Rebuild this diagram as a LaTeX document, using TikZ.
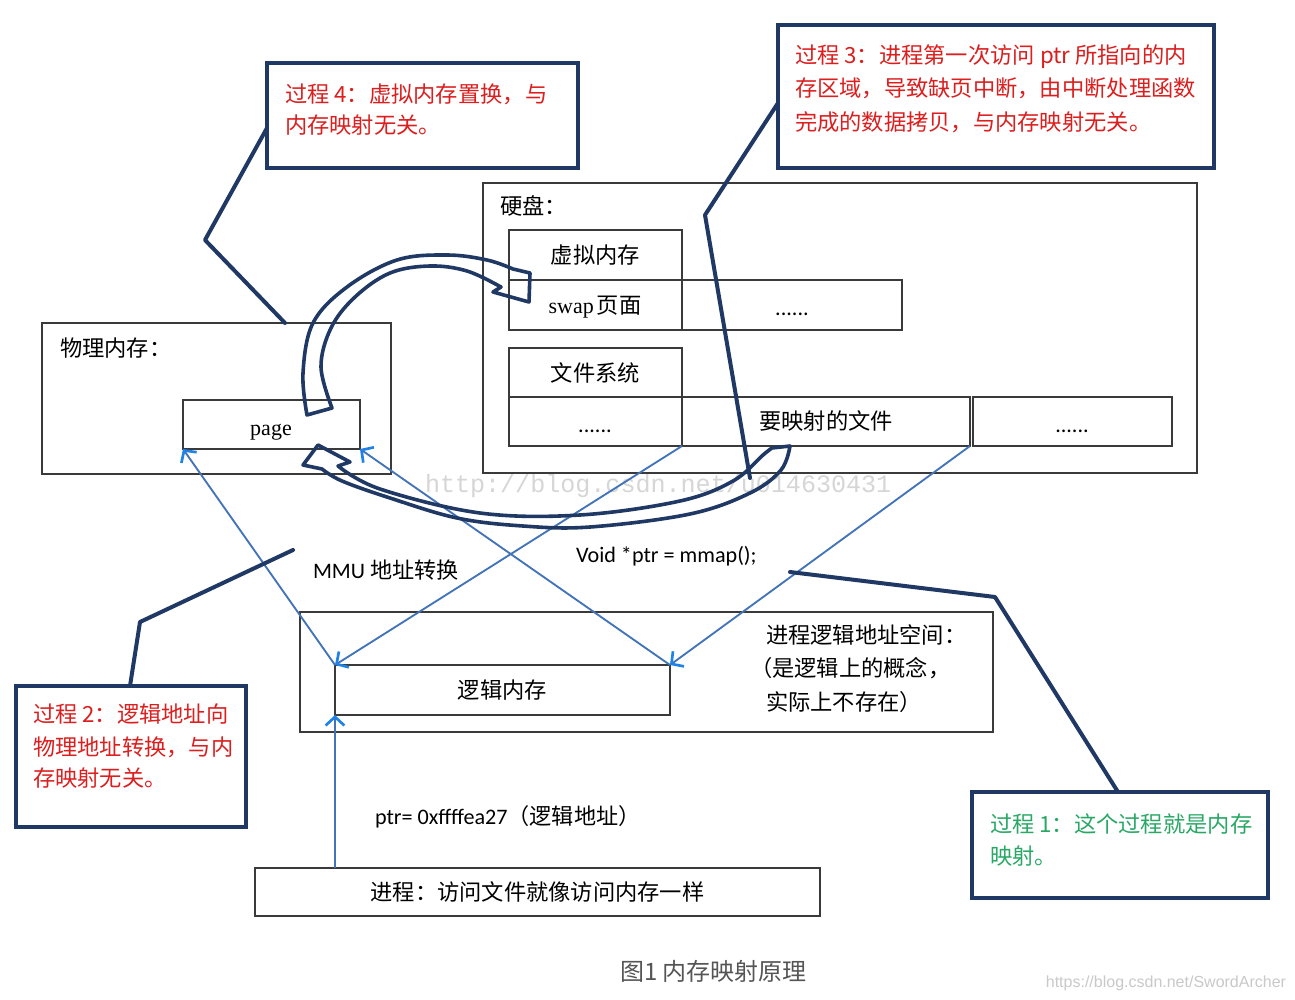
\documentclass[tikz,border=0pt]{standalone}
\usepackage{fontspec}
\setmainfont{Carlito}
\newfontfamily\cjk{Noto Sans CJK SC}
\newfontfamily\lserif{Liberation Serif}
\newfontfamily\lmono{Liberation Mono}
\newfontfamily\lsans{Liberation Sans}
\usetikzlibrary{arrows.meta,calc}
\definecolor{navy}{HTML}{1F3864}
\definecolor{boxgray}{HTML}{3A3A3A}
\definecolor{redtxt}{HTML}{DC1E1E}
\definecolor{greentxt}{HTML}{28A864}
\definecolor{lineblue}{HTML}{4474B8}
\definecolor{tipblue}{HTML}{1E82E6}
\definecolor{wmgray}{HTML}{D6D6D6}
\definecolor{capgray}{HTML}{555555}
\begin{document}
\begin{tikzpicture}[x=0.75pt,y=-0.75pt,
  every node/.style={inner sep=0pt, outer sep=0pt},
  wh/.style 2 args={minimum width=#1*0.75pt, minimum height=#2*0.75pt},
  box/.style={draw=boxgray, line width=0.9pt, anchor=north west},
  callout/.style={draw=navy, line width=3pt, anchor=north west, fill=white},
  cjkf/.style={font=\cjk\fontsize{16.7}{20}\selectfont},
  latf/.style={font=\fontsize{16.6}{20}\selectfont},
  serf/.style={font=\lserif\fontsize{16.5}{20}\selectfont},
  blueline/.style={draw=lineblue, line width=1.4pt,
    -{Straight Barb[length=6.5pt,width=14pt,line width=2pt,color=tipblue]}},
  callline/.style={draw=navy, line width=3pt, line join=round, line cap=round},
  hollow/.style={draw=navy, line width=2.7pt, line join=round}
]
\fill[white] (0,0) rectangle (1295,999);
\useasboundingbox (0,0) rectangle (1295,999);

% watermark
\node[font=\lmono\fontsize{18.8}{20}\selectfont, text=wmgray, anchor=base west] (wm) at (425,492) {http://blog.csdn.net/u014630431};

% physical memory
\node[box, wh={349}{151}] (phys) at (42,323) {};
\node[cjkf, anchor=base west] (physl) at (60,356) {物理内存：};
\node[box, wh={177}{49}] (page) at (183,400) {};
\node[serf, anchor=base] (pagel) at (271,435) {page};

% disk
\node[box, wh={714}{290}] (disk) at (483,183) {};
\node[cjkf, anchor=base west] (diskl) at (500,214) {硬盘：};
\node[box, wh={173}{50}] (vm) at (509,230) {};
\node[cjkf] (vml) at (vm.center) {虚拟内存};
\node[box, wh={173}{50}] (swap) at (509,280) {};
\node[anchor=base] (swapl) at (595,313) {{\lserif\fontsize{16.5}{20}\selectfont swap} {\cjk\fontsize{16.7}{20}\selectfont 页面}};
\node[box, wh={220}{50}] (dotsa) at (682,280) {};
\node[latf, anchor=base] (dotsal) at (792,315) {......};
\node[box, wh={173}{49}] (fs) at (509,348) {};
\node[cjkf] (fsl) at (fs.center) {文件系统};
\node[box, wh={173}{49}] (dotsb) at (509,397) {};
\node[latf, anchor=base] (dotsbl) at (595,432) {......};
\node[box, wh={288}{49}] (file) at (682,397) {};
\node[cjkf] (filel) at (826,421) {要映射的文件};
\node[box, wh={199}{49}] (dotsc) at (973,397) {};
\node[latf, anchor=base] (dotscl) at (1072,432) {......};

% logical address space
\node[box, wh={693}{120}] (space) at (300,612) {};
\node[box, wh={335}{50}] (logic) at (335,665) {};
\node[cjkf] (logicl) at (logic.center) {逻辑内存};
\node[cjkf, anchor=base west] (spacel1) at (766,643) {进程逻辑地址空间：};
\node[cjkf, anchor=base west] (spacel2) at (750,676) {（是逻辑上的概念，};
\node[cjkf, anchor=base west] (spacel3) at (766,710) {实际上不存在）};

% process
\node[box, wh={565}{48}] (proc) at (255,868) {};
\node[cjkf] (procl) at (proc.center) {进程：访问文件就像访问内存一样};

% free labels
\node[latf, anchor=base west] (mmu) at (313,578) {MMU {\cjk 地址转换}};
\node[latf, anchor=base west] (mmap) at (576,562) {Void *ptr = mmap();};
\node[latf, anchor=base west] (ptr) at (375,824) {ptr= 0xffffea27{\cjk （逻辑地址）}};

% blue connectors
\draw[blueline] (file.south west) -- (logic.north west);
\draw[blueline] (file.south east) -- (logic.north east);
\draw[blueline] (logic.north west) -- (page.south west);
\draw[blueline] (logic.north east) -- (page.south east);
\draw[blueline] (logic.south west |- proc.north) -- (logic.south west);

% hollow curved arrow: page -> swap
\draw[hollow] plot[smooth, tension=0.6] coordinates {(307,415) (303,373) (313,323) (347,287) (397,260) (447,255) (487,260) (513,269)}
  -- (530,273) -- (529,302) -- (493,292)
  -- plot[smooth, tension=0.6] coordinates {(501,287) (467,271) (430,266) (390,273) (355,297) (331,328) (321,367) (332,408)} -- cycle;

% hollow curved arrow: file -> page
\draw[hollow] plot[smooth, tension=0.6] coordinates {(790,446) (781,470) (750,493) (690,514) (590,527) (523,526) (457,518) (390,498) (342,481) (322,469)}
  -- (303,465) -- (318,445) -- (350,462)
  -- plot[smooth, tension=0.6] coordinates {(338,466) (380,489) (480,513) (580,515) (680,501) (733,481) (763,455) (772,448)} -- cycle;

% callouts
\node[callout, wh={311}{105}] (c4) at (267,63) {};
\node[cjkf, text=redtxt, anchor=base west] (c4a) at (285,103) {过程 4：虚拟内存置换，与};
\node[cjkf, text=redtxt, anchor=base west] (c4b) at (285,133) {内存映射无关。};

\node[callout, wh={436}{143}] (c3) at (778,25) {};
\node[cjkf, text=redtxt, anchor=base west] (c3a) at (795,64) {过程 3：进程第一次访问 ptr 所指向的内};
\node[cjkf, text=redtxt, anchor=base west] (c3b) at (795,97) {存区域，导致缺页中断，由中断处理函数};
\node[cjkf, text=redtxt, anchor=base west] (c3c) at (795,130) {完成的数据拷贝，与内存映射无关。};

\node[callout, wh={230}{141}] (c2) at (16,686) {};
\node[cjkf, text=redtxt, anchor=base west] (c2a) at (33,722) {过程 2：逻辑地址向};
\node[cjkf, text=redtxt, anchor=base west] (c2b) at (33,755) {物理地址转换，与内};
\node[cjkf, text=redtxt, anchor=base west] (c2c) at (33,786) {存映射无关。};

\node[callout, wh={296}{106}] (c1) at (972,792) {};
\node[cjkf, text=greentxt, anchor=base west] (c1a) at (990,832) {过程 1：这个过程就是内存};
\node[cjkf, text=greentxt, anchor=base west] (c1b) at (990,864) {映射。};

% callout connectors
\coordinate (k4) at (205,240);
\coordinate (k3) at (705,215);
\coordinate (e3) at (750,478);
\coordinate (k2) at (140,622);
\coordinate (e2) at (293,550);
\coordinate (k1) at (995,597);
\coordinate (e1) at (790,572);
\draw[callline] ($(c4.north west)+(0,65)$) -- (k4) -- ($(phys.north west)+(243,0)$);
\draw[callline] ($(c3.north west)+(0,78)$) -- (k3) -- (e3);
\draw[callline] ($(c2.north west)+(114,0)$) -- (k2) -- (e2);
\draw[callline] ($(c1.north west)+(146,0)$) -- (k1) -- (e1);

% caption and mark
\node[font=\cjk\fontsize{18}{20}\selectfont, text=capgray, anchor=base west] (cap) at (620,980) {图1 内存映射原理};
\node[font=\lsans\fontsize{12}{14}\selectfont, text=wmgray!85!gray, anchor=base east] (mark) at (1286,987) {https://blog.csdn.net/SwordArcher};
\end{tikzpicture}
\end{document}
